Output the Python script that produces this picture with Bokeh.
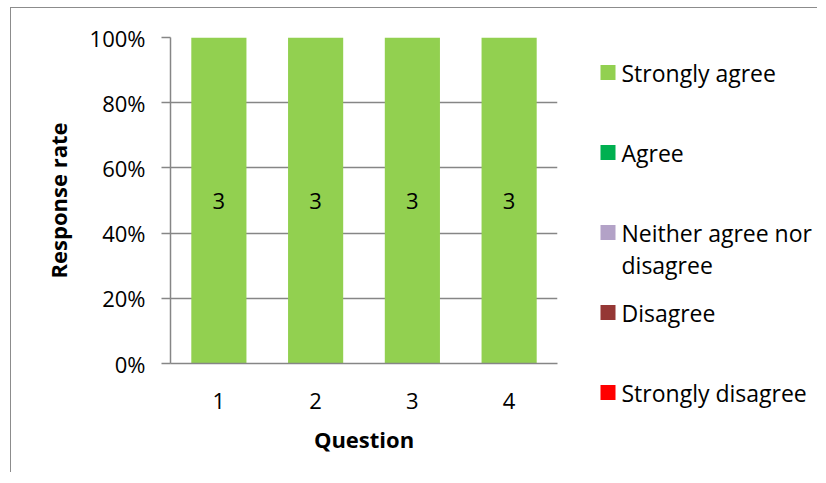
from bokeh.plotting import figure
from bokeh.models import (LabelSet, ColumnDataSource, FixedTicker, Range1d, CustomJSTickFormatter)
from bokeh.core.properties import value
from bokeh.embed import file_html
from bokeh.resources import INLINE

questions = [1, 2, 3, 4]
question_labels = ["1", "2", "3", "4"]
strongly_agree = [3, 3, 3, 3]
agree = [0, 0, 0, 0]
neither = [0, 0, 0, 0]
disagree = [0, 0, 0, 0]
strongly_disagree = [0, 0, 0, 0]
series_names = ["Strongly disagree", "Disagree", "Neither agree nor disagree", "Agree", "Strongly agree"]
series_colors = ["#FF0000", "#953735", "#B3A2C7", "#00B050", "#92D050"]
y_ticks = [0, 20, 40, 60, 80, 100]

FONT = "Open Sans"
GRAY = "#868686"

counts = [strongly_disagree, disagree, neither, agree, strongly_agree]
totals = [sum(c[i] for c in counts) for i in range(len(questions))]
data = {"x": questions}
keys = []
for k, c in enumerate(counts):
    key = "s%d" % k
    keys.append(key)
    data[key] = [100.0 * c[i] / totals[i] if totals[i] else 0 for i in range(len(questions))]
src = ColumnDataSource(data)

p = figure(width=807, height=465, output_backend="svg", toolbar_location=None,
           x_range=Range1d(0.5, 4.5), y_range=Range1d(0, 100),
           min_border_left=159, min_border_right=261, min_border_top=29, min_border_bottom=110)
p.styles = {"border-left": "1px solid #8c8c8c", "border-top": "1px solid #8c8c8c",
            "margin-left": "10px", "margin-top": "7px"}
p.outline_line_color = None
p.background_fill_color = "white"
p.border_fill_color = "white"

renderers = p.vbar_stack(keys, x="x", width=0.57, source=src, color=series_colors, line_color=None)

# data labels (counts)
lab_x, lab_y, lab_t = [], [], []
for i in range(len(questions)):
    bottom = 0.0
    for k, c in enumerate(counts):
        pct = data[keys[k]][i]
        if c[i] > 0:
            lab_x.append(questions[i])
            lab_y.append(bottom + pct / 2)
            lab_t.append(str(c[i]))
        bottom += pct
ls = LabelSet(x="x", y="y", text="t", source=ColumnDataSource(dict(x=lab_x, y=lab_y, t=lab_t)),
              text_align="center", text_baseline="middle", text_font=value(FONT),
              text_font_size="22px", text_color="black")
p.add_layout(ls)

p.xgrid.visible = False
p.ygrid.ticker = FixedTicker(ticks=y_ticks)
p.ygrid.grid_line_color = GRAY
p.ygrid.grid_line_width = 1.5

p.yaxis.ticker = FixedTicker(ticks=y_ticks)
p.yaxis.formatter = CustomJSTickFormatter(code="return tick + '%';")
p.xaxis.ticker = FixedTicker(ticks=questions)
p.xaxis.major_label_overrides = {q: l for q, l in zip(questions, question_labels)}

for ax in (p.xaxis, p.yaxis):
    ax.axis_line_color = GRAY
    ax.axis_line_width = 1.5
    ax.major_tick_line_color = GRAY
    ax.major_tick_line_width = 1.5
    ax.minor_tick_line_color = None
    ax.major_tick_in = 0
    ax.major_label_text_font = FONT
    ax.major_label_text_font_size = "22px"
    ax.major_label_text_color = "black"
    ax.axis_label_text_font = FONT
    ax.axis_label_text_font_size = "22px"
    ax.axis_label_text_font_style = "bold"
    ax.axis_label_text_color = "black"

p.yaxis.major_tick_out = 9
p.yaxis.major_label_standoff = 16
p.yaxis.axis_label = "Response rate"
p.yaxis.axis_label_standoff = 14
p.xaxis.major_tick_out = 0
p.xaxis.major_label_standoff = 29
p.xaxis.axis_label = "Question"
p.xaxis.axis_label_standoff = 12

# legend panel: a separate canvas laid over the blank right part of the chart
lf = figure(width=258, height=455, output_backend="svg", toolbar_location=None,
            x_range=Range1d(0, 258), y_range=Range1d(455, 0),
            min_border=0, outline_line_color=None)
lf.styles = {"position": "absolute", "left": "558px", "top": "8px"}
lf.axis.visible = False
lf.grid.visible = False
lf.background_fill_color = "white"
lf.border_fill_color = "white"

legend_order = [4, 3, 2, 1, 0]
legend_lines = [["Strongly agree"], ["Agree"], ["Neither agree nor", "disagree"], ["Disagree"], ["Strongly disagree"]]
mk_x, mk_y, mk_c = [], [], []
tx_x, tx_y, tx_t = [], [], []
for j, k in enumerate(legend_order):
    yc = 64 + 80 * j
    mk_x.append(49.5)
    mk_y.append(yc)
    mk_c.append(series_colors[k])
    for li, line in enumerate(legend_lines[j]):
        tx_x.append(63)
        tx_y.append(yc + 32 * li)
        tx_t.append(line)
lf.scatter(mk_x, mk_y, marker="square", size=15, color=mk_c, line_color=None)
lf.text(tx_x, tx_y, text=tx_t, text_font=value(FONT), text_font_size="23px",
        text_baseline="middle", text_align="left", text_color="black")

open("out.html", "w").write(file_html([p, lf], INLINE))
